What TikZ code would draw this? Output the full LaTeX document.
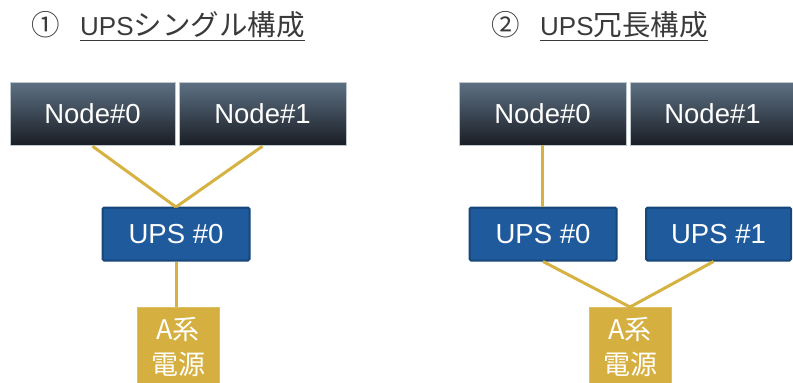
\documentclass[tikz,border=0pt]{standalone}
\usepackage{fontspec}
\setmainfont{Liberation Sans}
\newfontfamily\cjk{Noto Sans CJK JP}
\usetikzlibrary{calc}

\definecolor{titlegray}{HTML}{3A3A3A}
\definecolor{nodetop}{HTML}{5D7184}
\definecolor{nodebot}{HTML}{1A1E25}
\definecolor{upsfill}{HTML}{1F5A9C}
\definecolor{upsline}{HTML}{174679}
\definecolor{gold}{HTML}{D5AF3F}
\definecolor{wire}{HTML}{D6B242}

\tikzset{
  title/.style={inner sep=0pt, anchor=base west, text=titlegray, font=\fontsize{26}{30}\selectfont},
  jp/.style={font=\fontsize{28.5}{30}\selectfont\cjk},
  rule/.style={draw=titlegray, line width=1.5pt},
  server/.style={rectangle, inner sep=0pt, minimum width=#1, minimum height=63pt,
    top color=nodetop, bottom color=nodebot, draw=white!60!nodetop, line width=0.4pt,
    text=white, font=\fontsize{27.5}{30}\selectfont},
  ups/.style={rectangle, rounded corners=1.5pt, inner sep=0pt, minimum width=#1, minimum height=53pt,
    fill=upsfill, draw=upsline, line width=2pt, text=white, font=\fontsize{27.5}{30}\selectfont},
  power/.style={rectangle, inner sep=0pt, minimum width=82pt, minimum height=80pt,
    fill=gold, draw=gold!80!white, line width=0.6pt, text=white, align=center,
    font=\fontsize{27}{35}\selectfont\cjk},
  wireline/.style={draw=wire, line width=3pt},
}

\begin{document}
\begin{tikzpicture}[x=1pt, y=-1pt]
  \useasboundingbox (0,0) rectangle (793,383);

  % ---- left: single UPS ----
  \node[title, jp] (n1) at (31,35) {①};
  \node[title] (t1) at (80,35) {UPS{\fontsize{28.5}{30}\selectfont\cjk シングル構成}};
  \draw[rule] ($(t1.base west)+(0,5.5)$) -- ($(t1.base east)+(0,5.5)$);

  \node[server=165pt] (a0) at (92.5,113.5) {Node\#0};
  \node[server=167pt] (a1) at (262.5,113.5) {Node\#1};
  \node[ups=147pt] (au) at (176,234) {UPS \#0};
  \node[power] (ap) at (178,347) {A系\\電源};

  \coordinate (aj) at (176,207);
  \draw[wireline] ($(a0.south)+(0,1)$) -- (aj);
  \draw[wireline] ($(a1.south)+(0,1)$) -- (aj);
  \draw[wireline] (au.south) -- (au.south |- ap.north);

  % ---- right: redundant UPS ----
  \node[title, jp] (n2) at (491,35) {②};
  \node[title] (t2) at (540,35) {UPS{\fontsize{28.5}{30}\selectfont\cjk 冗長構成}};
  \draw[rule] ($(t2.base west)+(0,5.5)$) -- ($(t2.base east)+(0,5.5)$);

  \node[server=167pt] (b0) at (542.5,113.5) {Node\#0};
  \node[server=165pt] (b1) at (712.5,113.5) {Node\#1};
  \node[ups=147pt] (bu0) at (543,234) {UPS \#0};
  \node[ups=145pt] (bu1) at (718.5,234) {UPS \#1};
  \node[power] (bp) at (630,347) {A系\\電源};

  \draw[wireline] (b0.south) -- (b0.south |- bu0.north);
  \draw[wireline] ($(b1.south)+(4,0)$) -- ($(b1.south)+(4,0)$ |- bu1.north);
  \coordinate (bj) at (630,307);
  \draw[wireline] (bu0.south) -- (bj);
  \draw[wireline] ($(bu1.south)+(-5,0)$) -- (bj);
\end{tikzpicture}
\end{document}
